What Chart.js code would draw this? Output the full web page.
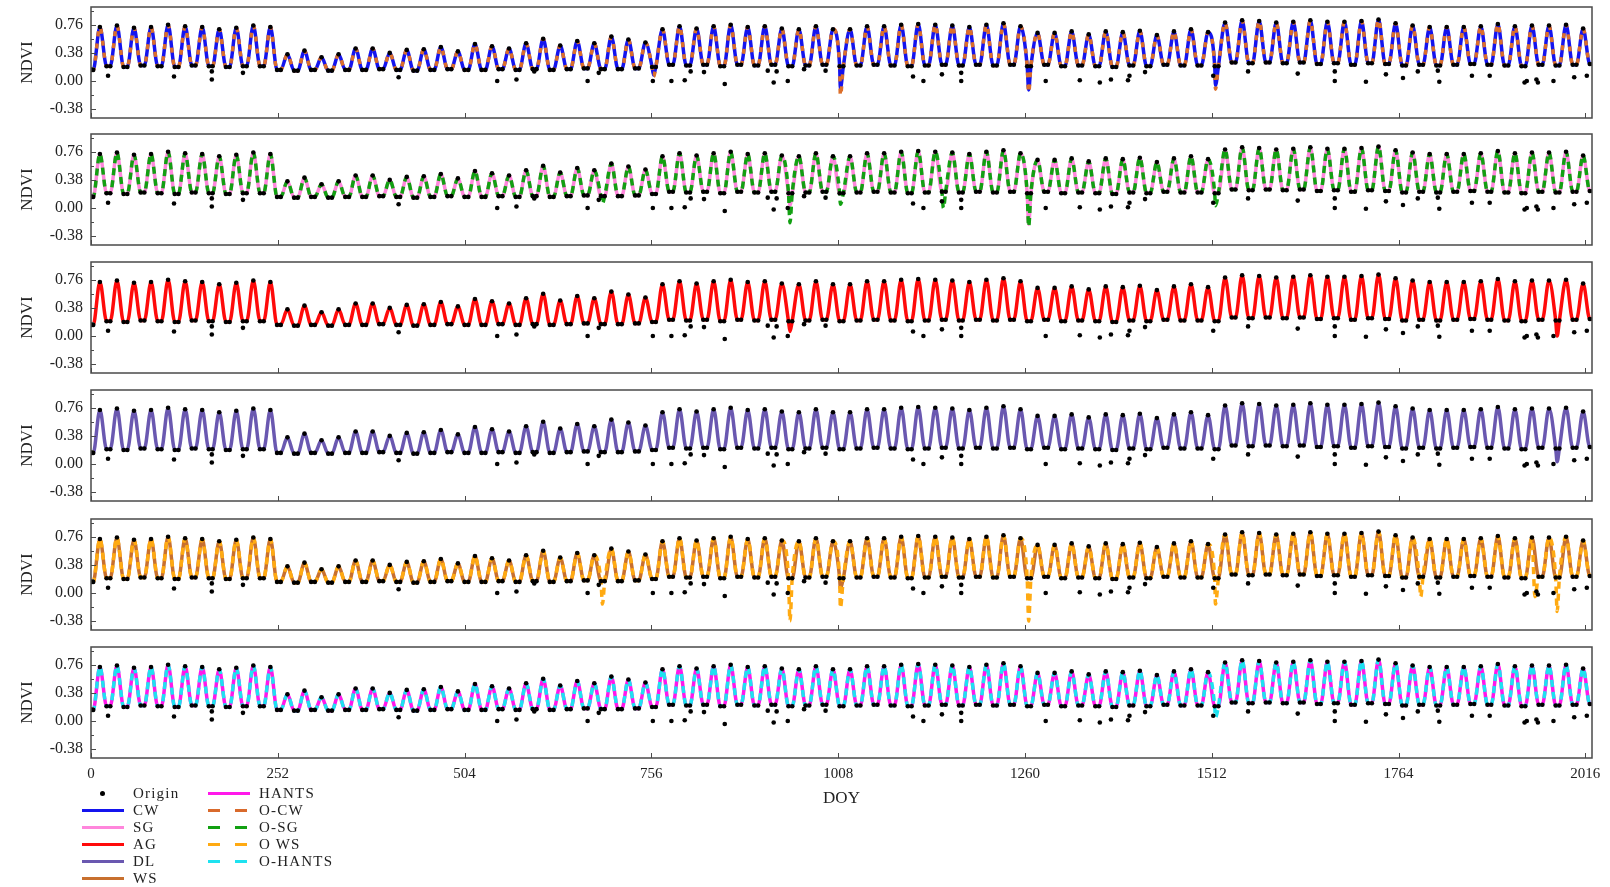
<!DOCTYPE html>
<html>
<head>
<meta charset="utf-8">
<script src="https://cdn.jsdelivr.net/npm/chart.js@4.4.1/dist/chart.umd.min.js"></script>
<style>
  html, body { margin: 0; padding: 0; background: #fff; }
  body { width: 1610px; height: 887px; position: relative; overflow: hidden; }
  canvas { position: absolute; left: 0; }
  .lg-row { position: absolute; height: 17px; display: flex; align-items: center;
            font-family: 'Liberation Serif', 'Times New Roman', serif; font-size: 15px;
            letter-spacing: 1.2px; color: #222; }
  .lg-sym { width: 42px; height: 3px; margin-right: 9px; }
  .lg-dot { width: 42px; height: 3px; margin-right: 9px; position: relative; }
  .lg-dot::after { content: ''; position: absolute; left: 18px; top: -1px; width: 5px; height: 5px;
                   border-radius: 50%; background: #000; }
</style>
</head>
<body>
<canvas id="p0" width="1610" height="128" style="top:0px"></canvas>
<canvas id="p1" width="1610" height="128" style="top:127px"></canvas>
<canvas id="p2" width="1610" height="128" style="top:255px"></canvas>
<canvas id="p3" width="1610" height="128" style="top:383px"></canvas>
<canvas id="p4" width="1610" height="128" style="top:512px"></canvas>
<canvas id="p5" width="1610" height="170" style="top:640px"></canvas>
<div id="legend"></div>
<script>
// --- DONNÉES NDVI ---
// un pic par cycle (pas de 23 jours, premier pic à DOY 12), puis le creux qui suit
const peakNdvi = [
  0.73, 0.75, 0.72, 0.73, 0.76, 0.74, 0.73, 0.70, 0.72, 0.75, 0.73,
  0.36, 0.41, 0.32, 0.36, 0.44, 0.44, 0.38, 0.42, 0.43, 0.46, 0.40,
  0.50, 0.47, 0.44, 0.51, 0.57, 0.48, 0.54, 0.51, 0.60, 0.56, 0.52,
  0.70, 0.74, 0.71, 0.74, 0.76, 0.73, 0.74, 0.71, 0.70, 0.74, 0.70,
  0.70, 0.74, 0.74, 0.76, 0.77, 0.76, 0.75, 0.73, 0.76, 0.78, 0.74,
  0.65, 0.65, 0.67, 0.63, 0.67, 0.66, 0.68, 0.62, 0.67, 0.70, 0.66,
  0.79, 0.82, 0.81, 0.79, 0.80, 0.82, 0.80, 0.80, 0.81, 0.83, 0.78,
  0.75, 0.73, 0.73, 0.73, 0.74, 0.77, 0.74, 0.75, 0.75, 0.76, 0.71
];
const troughNdvi = [
  0.20, 0.19, 0.21, 0.20, 0.19, 0.21, 0.20, 0.19, 0.20, 0.20, 0.15,
  0.14, 0.15, 0.14, 0.15, 0.15, 0.16, 0.15, 0.14, 0.15, 0.16, 0.15,
  0.15, 0.16, 0.15, 0.16, 0.15, 0.16, 0.17, 0.16, 0.16, 0.17, 0.19,
  0.22, 0.21, 0.22, 0.20, 0.22, 0.21, 0.22, 0.20, 0.21, 0.22, 0.20,
  0.21, 0.22, 0.21, 0.20, 0.21, 0.22, 0.21, 0.22, 0.21, 0.22, 0.20,
  0.22, 0.20, 0.21, 0.20, 0.19, 0.21, 0.20, 0.22, 0.21, 0.21, 0.20,
  0.25, 0.24, 0.25, 0.24, 0.25, 0.23, 0.24, 0.22, 0.24, 0.23, 0.21,
  0.22, 0.21, 0.22, 0.23, 0.22, 0.21, 0.20, 0.22, 0.21, 0.22, 0.23
];
const startNdvi = 0.15;

// valeurs brutes aberrantes (DOY, NDVI)
const originLow = [
  [0, 0.15], [23, 0.07], [112, 0.06], [163, 0.02], [163, 0.13], [205, 0.11], [415, 0.05],
  [548, 0.00], [574, 0.02], [598, 0.13], [670, 0.00], [685, 0.11], [758, 0.00], [783, 0.00],
  [801, 0.01], [809, 0.13], [827, 0.12], [855, -0.04], [913, 0.14], [921, -0.02], [925, 0.13],
  [940, 0.00], [962, 0.16], [991, 0.14], [1109, 0.06], [1123, 0.00], [1148, 0.09], [1174, 0.00],
  [1174, 0.11], [1288, 0.00], [1334, 0.01], [1361, -0.02], [1376, 0.02], [1399, 0.01],
  [1401, 0.07], [1422, 0.12], [1514, 0.07], [1561, 0.13], [1628, 0.10], [1678, 0.00],
  [1678, 0.13], [1720, -0.01], [1747, 0.09], [1770, 0.04], [1790, 0.13], [1819, -0.01],
  [1817, 0.14], [1863, 0.07], [1887, 0.07], [1934, -0.02], [1937, 0.00], [1952, -0.02],
  [1950, 0.02], [1973, 0.00], [2001, 0.05], [2018, 0.07]
];

// chutes ponctuelles propres à chaque méthode (DOY, NDVI)
const dipCW     = [[759, 0.08], [1011, -0.10], [1265, -0.12], [1517, -0.06]];
const dipOCW    = [[759, 0.06], [1011, -0.20], [1265, -0.16], [1517, -0.11]];
const dipSG     = [[943, 0.04], [1265, -0.22]];
const dipOSG    = [[690, 0.06], [943, -0.20], [1011, 0.05], [1150, 0.00], [1265, -0.25], [1517, 0.03]];
const dipAG     = [[943, 0.06], [1978, 0.00]];
const dipDL     = [[1978, 0.03]];
const dipWS     = [[1011, 0.06]];
const dipOWS    = [[690, -0.15], [943, -0.38], [1011, -0.20], [1265, -0.38], [1517, -0.15],
                   [1794, -0.05], [1948, -0.05], [1978, -0.25]];
const dipHANTS  = [];
const dipOHANTS = [[1517, 0.05]];

const doyTicks = [0, 252, 504, 756, 1008, 1260, 1512, 1764, 2016];
const ndviTicks = [-0.38, 0.00, 0.38, 0.76];
const ndviMinor = [-0.38, -0.19, 0.00, 0.19, 0.38, 0.57, 0.76, 0.95];

// --- CONFIGURATION ---
const SERIF = "'Liberation Serif', 'Times New Roman', serif";

// dash : motif des tirets de la courbe "O-"
const panels = [
  { solid: { label: 'CW', color: '#1414ee', dips: dipCW },    dashed: { label: 'O-CW', color: '#dc6f2a', dips: dipOCW, dash: [5, 7] } },
  { solid: { label: 'SG', color: '#ff86dc', dips: dipSG },    dashed: { label: 'O-SG', color: '#12a012', dips: dipOSG, dash: [7, 5] } },
  { solid: { label: 'AG', color: '#ff0a0a', dips: dipAG },    dashed: null },
  { solid: { label: 'DL', color: '#6a58b0', dips: dipDL },    dashed: null },
  { solid: { label: 'WS', color: '#c8702e', dips: dipWS },    dashed: { label: 'O WS', color: '#ffaa12', dips: dipOWS, dash: [7, 5] } },
  { solid: { label: 'HANTS', color: '#ff18ea', dips: dipHANTS }, dashed: { label: 'O-HANTS', color: '#1ee2f0', dips: dipOHANTS, dash: [7, 5] } }
];

const legendLeft = [
  { label: 'Origin', color: '#000', kind: 'dot' },
  { label: 'CW', color: '#1414ee', kind: 'solid' },
  { label: 'SG', color: '#ff86dc', kind: 'solid' },
  { label: 'AG', color: '#ff0a0a', kind: 'solid' },
  { label: 'DL', color: '#6a58b0', kind: 'solid' },
  { label: 'WS', color: '#c8702e', kind: 'solid' }
];
const legendRight = [
  { label: 'HANTS', color: '#ff18ea', kind: 'solid' },
  { label: 'O-CW', color: '#d96a2c', kind: 'dash' },
  { label: 'O-SG', color: '#12a012', kind: 'dash' },
  { label: 'O WS', color: '#ffaa12', kind: 'dash' },
  { label: 'O-HANTS', color: '#1ee2f0', kind: 'dash' }
];

// --- CONSTRUCTION DES COURBES ---
// pic, puis creux plat (deux échantillons) avant le pic suivant
function buildCurve(dips) {
  const pts = [{ x: 0, y: startNdvi }, { x: 3, y: startNdvi }];
  peakNdvi.forEach((p, k) => {
    const xp = 12 + 23 * k;
    pts.push({ x: xp, y: p }, { x: xp + 9, y: troughNdvi[k] }, { x: xp + 14, y: troughNdvi[k] });
  });
  dips.forEach(([x, y]) => pts.push({ x, y }));
  return pts.sort((a, b) => a.x - b.x);
}

const originPoints = buildCurve([]).concat(originLow.map(([x, y]) => ({ x, y })));

// cadre + graduations tournées vers l'intérieur
const framePlugin = {
  id: 'frame',
  afterDraw(chart) {
    const { ctx, chartArea: a, scales: { x, y } } = chart;
    ctx.save();
    ctx.strokeStyle = '#4a4a4a';
    ctx.lineWidth = 1.5;
    ctx.strokeRect(a.left, a.top, a.right - a.left, a.bottom - a.top);
    ctx.lineWidth = 1;
    ctx.beginPath();
    doyTicks.forEach(v => {
      const px = Math.round(x.getPixelForValue(v)) + 0.5;
      ctx.moveTo(px, a.bottom);
      ctx.lineTo(px, a.bottom - 5);
    });
    ndviMinor.forEach(v => {
      const py = Math.round(y.getPixelForValue(v)) + 0.5;
      const len = ndviTicks.includes(v) ? 5 : 3;
      ctx.moveTo(a.left, py);
      ctx.lineTo(a.left + len, py);
    });
    ctx.stroke();
    ctx.restore();
  }
};

function makeChart(id, panel, isLast) {
  const datasets = [{
    label: 'Origin',
    data: originPoints,
    showLine: false,
    pointRadius: 2.3,
    pointBackgroundColor: '#000',
    pointBorderWidth: 0,
    order: 0
  }];
  if (panel.dashed) {
    datasets.push({
      label: panel.dashed.label,
      data: buildCurve(panel.dashed.dips),
      borderColor: panel.dashed.color,
      borderWidth: 3.5,
      borderDash: panel.dashed.dash,
      order: 1
    });
  }
  datasets.push({
    label: panel.solid.label,
    data: buildCurve(panel.solid.dips),
    borderColor: panel.solid.color,
    borderWidth: 3.5,
    order: 2
  });

  return new Chart(document.getElementById(id), {
    type: 'line',
    data: { datasets },
    options: {
      responsive: false,
      animation: false,
      devicePixelRatio: 1,
      layout: { padding: { top: 7, right: 18, left: 0, bottom: 0 } },
      plugins: { legend: { display: false }, tooltip: { enabled: false } },
      elements: {
        line: { cubicInterpolationMode: 'monotone', fill: false },
        point: { radius: 0 }
      },
      datasets: { line: { clip: 0 } },
      scales: {
        x: {
          type: 'linear', min: 0, max: 2025,
          grid: { display: false, drawTicks: false },
          border: { display: false },
          afterBuildTicks: s => { s.ticks = doyTicks.map(v => ({ value: v })); },
          afterFit: s => { s.height = isLast ? 52 : 10; s.paddingLeft = 0; s.paddingRight = 0; },
          ticks: {
            display: isLast, padding: 7, color: '#222',
            font: { family: SERIF, size: 15 },
            maxRotation: 0, autoSkip: false,
            callback: v => String(v)
          },
          title: {
            display: isLast, text: 'DOY', color: '#222',
            font: { family: SERIF, size: 17 },
            padding: { top: 0, bottom: 1 }
          }
        },
        y: {
          min: -0.5, max: 1.0,
          grid: { display: false, drawTicks: false },
          border: { display: false },
          afterBuildTicks: s => { s.ticks = ndviTicks.map(v => ({ value: v })); },
          afterFit: s => { s.width = 91; s.paddingTop = 0; s.paddingBottom = 0; },
          ticks: {
            padding: 8, color: '#222',
            font: { family: SERIF, size: 16 },
            callback: v => v.toFixed(2)
          },
          title: {
            display: true, text: 'NDVI', color: '#222',
            font: { family: SERIF, size: 17 },
            padding: { top: 17, bottom: 0 }
          }
        }
      }
    },
    plugins: [framePlugin]
  });
}

panels.forEach((p, i) => makeChart('p' + i, p, i === panels.length - 1));

// --- LÉGENDE ---
function addLegendColumn(items, symLeft) {
  const box = document.getElementById('legend');
  items.forEach((it, i) => {
    const row = document.createElement('div');
    row.className = 'lg-row';
    row.style.left = symLeft + 'px';
    row.style.top = (785 + 17 * i) + 'px';
    const sym = document.createElement('span');
    if (it.kind === 'dot') {
      sym.className = 'lg-dot';
    } else {
      sym.className = 'lg-sym';
      sym.style.background = it.kind === 'dash'
        ? `linear-gradient(to right, ${it.color} 0 12px, transparent 12px 27px, ${it.color} 27px 39px, transparent 39px)`
        : it.color;
    }
    const txt = document.createElement('span');
    txt.textContent = it.label;
    row.appendChild(sym);
    row.appendChild(txt);
    box.appendChild(row);
  });
}
addLegendColumn(legendLeft, 82);
addLegendColumn(legendRight, 208);
</script>
</body>
</html>
